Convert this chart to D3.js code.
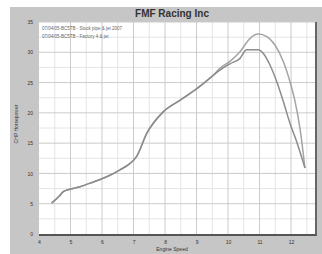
<!DOCTYPE html>
<html><head><meta charset="utf-8">
<script src="https://cdn.jsdelivr.net/npm/d3@7"></script>
<style>body{margin:0;background:#fff}svg{display:block}</style>
</head><body>
<script>
const title = "FMF Racing Inc";
const legendLabels = ["07/04/05-BC5TB - Stock pipe & jet 2007", "07/04/05-BC5TB - Factory 4 & jet"];
const yTicks = [0,5,10,15,20,25,30,35];
const xTicks = [4,5,6,7,8,9,10,11,12];
const common = [[4.40,5.1],[4.67,6.4],[4.77,7.0],[4.98,7.4],[5.30,7.8],[5.62,8.4],[5.94,9.0],[6.25,9.7],[6.57,10.6],[6.83,11.4],[7.10,12.8],[7.42,16.6],[7.95,20.2],[8.48,22.1],[9.01,24.0],[9.53,26.2]];
const runA = [[9.75,27.4],[10.06,28.5],[10.38,30.1],[10.70,32.3],[10.96,33.0],[11.23,32.6],[11.49,31.2],[11.76,28.4],[11.97,25.1],[12.13,21.8],[12.29,17.2],[12.44,10.9]];
const runB = [[9.75,27.1],[10.06,28.1],[10.38,29.0],[10.59,30.4],[10.96,30.4],[11.12,29.8],[11.33,27.9],[11.55,25.1],[11.76,21.8],[11.97,18.2],[12.16,15.5],[12.44,10.9]];
const seriesA = common.concat(runA);
const seriesB = common.concat(runB);

const W=322,H=254;
const svg=d3.select("body").append("svg").attr("width",W).attr("height",H);
svg.append("rect").attr("x",10).attr("y",7).attr("width",312).attr("height",247).attr("fill","#c6c6c6");
const L=39,R=315,T=22,B=234;
const x=d3.scaleLinear().domain([4,12.76]).range([L,R]);
const y=d3.scaleLinear().domain([0,35]).range([B,T]);
svg.append("rect").attr("x",L).attr("y",T).attr("width",R-L).attr("height",B-T).attr("fill","#fff");
const g=svg.append("g");
const xMinor=d3.range(4.5,12.76,1);
const yMinor=d3.range(2.5,35,5);
g.selectAll(".vm").data(xMinor).join("line").attr("x1",d=>x(d)).attr("x2",d=>x(d)).attr("y1",T).attr("y2",B).attr("stroke","#e4e4e4").attr("stroke-width",1);
g.selectAll(".hm").data(yMinor).join("line").attr("y1",d=>y(d)).attr("y2",d=>y(d)).attr("x1",L).attr("x2",R).attr("stroke","#e4e4e4").attr("stroke-width",1);
g.selectAll(".vM").data(xTicks.slice(1)).join("line").attr("x1",d=>x(d)).attr("x2",d=>x(d)).attr("y1",T).attr("y2",B).attr("stroke","#cbcbcb").attr("stroke-width",1);
g.selectAll(".hM").data(yTicks.slice(1)).join("line").attr("y1",d=>y(d)).attr("y2",d=>y(d)).attr("x1",L).attr("x2",R).attr("stroke","#cbcbcb").attr("stroke-width",1);
svg.append("line").attr("x1",L).attr("x2",R+2).attr("y1",B+1).attr("y2",B+1).attr("stroke","#555").attr("stroke-width",2);
svg.append("line").attr("x1",R+1).attr("x2",R+1).attr("y1",T).attr("y2",B+1).attr("stroke","#666").attr("stroke-width",2);
svg.append("g").attr("transform",`translate(${L-6},0)`).call(d3.axisLeft(y).tickValues(yTicks).tickSize(0).tickPadding(0))
  .call(a=>a.select(".domain").remove())
  .selectAll("text").attr("font-family","Arial, Liberation Sans, sans-serif").attr("font-size",5).attr("fill","#333");
svg.append("g").attr("transform",`translate(0,${B+6})`).call(d3.axisBottom(x).tickValues(xTicks).tickFormat(d3.format("d")).tickSize(0).tickPadding(0))
  .call(a=>a.select(".domain").remove())
  .selectAll("text").attr("font-family","Arial, Liberation Sans, sans-serif").attr("font-size",5).attr("fill","#333");
svg.append("text").attr("x",172).attr("y",17).attr("text-anchor","middle").attr("font-family","Arial, Liberation Sans, sans-serif").attr("font-weight","bold").attr("font-size",10).attr("fill","#333").text(title);
svg.append("text").attr("transform","translate(18,124) rotate(-90)").attr("text-anchor","middle").attr("font-family","Arial, Liberation Sans, sans-serif").attr("font-size",5).attr("fill","#333").text("CHP Horsepower");
svg.append("text").attr("x",172).attr("y",251).attr("text-anchor","middle").attr("font-family","Arial, Liberation Sans, sans-serif").attr("font-size",5).attr("fill","#333").text("Engine Speed");
legendLabels.forEach((t,i)=>{
  svg.append("text").attr("x",42).attr("y",30+i*8).attr("font-family","Arial, Liberation Sans, sans-serif").attr("font-size",4.5).attr("fill","#666").text(t);
});
const line=d3.line().x(d=>x(d[0])).y(d=>y(d[1])).curve(d3.curveMonotoneX);
svg.append("path").datum(seriesA).attr("d",line).attr("fill","none").attr("stroke","#a4a4a4").attr("stroke-width",1.5);
svg.append("path").datum(seriesB).attr("d",line).attr("fill","none").attr("stroke","#8c8c8c").attr("stroke-width",1.5);
</script>
</body></html>
